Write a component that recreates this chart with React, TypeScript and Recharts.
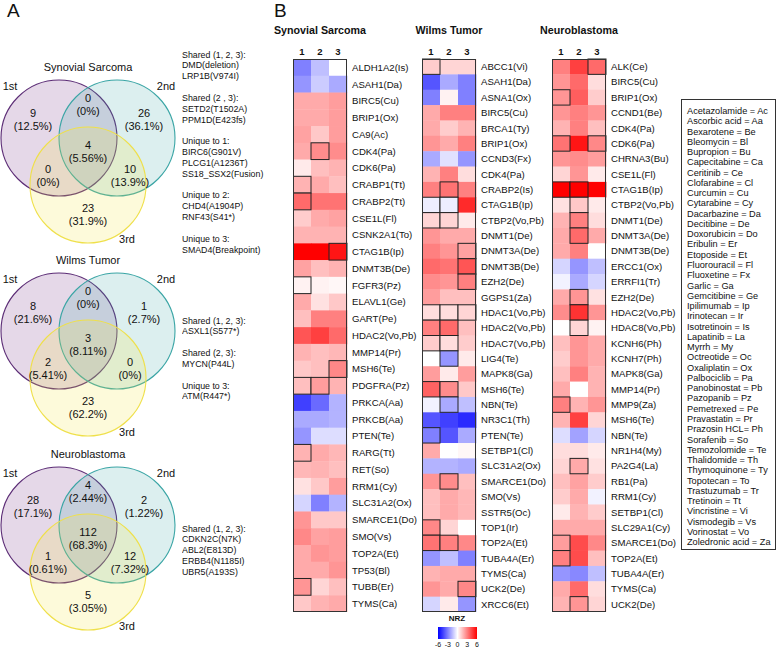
import { ScatterChart, Scatter, XAxis, YAxis, ReferenceArea } from 'recharts'

const SANS = '"Liberation Sans", Arial, Helvetica, sans-serif'
const NARROW = '"Liberation Sans Narrow", "Arial Narrow", "Liberation Sans", sans-serif'

// ---- Venn data: regions in order [only 1, 1&2, only 2, 1&2&3, 1&3, 2&3, only 3]
const ssCounts = [9, 0, 26, 4, 0, 10, 23]
const ssPcts = ['12.5%', '0%', '36.1%', '5.56%', '0%', '13.9%', '31.9%']
const wtCounts = [8, 0, 1, 3, 2, 0, 23]
const wtPcts = ['21.6%', '0%', '2.7%', '8.11%', '5.41%', '0%', '62.2%']
const nbCounts = [28, 4, 2, 112, 1, 12, 5]
const nbPcts = ['17.1%', '2.44%', '1.22%', '68.3%', '0.61%', '7.32%', '3.05%']

const ssNotes = [
  ['Shared (1, 2, 3):', 'DMD(deletion)', 'LRP1B(V974I)'],
  ['Shared (2 , 3):', 'SETD2(T1502A)', 'PPM1D(E423fs)'],
  ['Unique to 1:', 'BIRC6(G901V)', 'PLCG1(A1236T)', 'SS18_SSX2(Fusion)'],
  ['Unique to 2:', 'CHD4(A1904P)', 'RNF43(S41*)'],
  ['Unique to 3:', 'SMAD4(Breakpoint)'],
]
const wtNotes = [
  ['Shared (1, 2, 3):', 'ASXL1(S577*)'],
  ['Shared (2, 3):', 'MYCN(P44L)'],
  ['Unique to 3:', 'ATM(R447*)'],
]
const nbNotes = [['Shared (1, 2, 3):', 'CDKN2C(N7K)', 'ABL2(E813D)', 'ERBB4(N1185I)', 'UBR5(A193S)']]

// ---- Heatmap data (NRZ per timepoint 1, 2, 3)
const ssGenes = ['ALDH1A2(Is)', 'ASAH1(Da)', 'BIRC5(Cu)', 'BRIP1(Ox)', 'CA9(Ac)', 'CDK4(Pa)', 'CDK6(Pa)', 'CRABP1(Tt)', 'CRABP2(Tt)', 'CSE1L(Fl)', 'CSNK2A1(To)', 'CTAG1B(Ip)', 'DNMT3B(De)', 'FGFR3(Pz)', 'ELAVL1(Ge)', 'GART(Pe)', 'HDAC2(Vo,Pb)', 'MMP14(Pr)', 'MSH6(Te)', 'PDGFRA(Pz)', 'PRKCA(Aa)', 'PRKCB(Aa)', 'PTEN(Te)', 'RARG(Tt)', 'RET(So)', 'RRM1(Cy)', 'SLC31A2(Ox)', 'SMARCE1(Do)', 'SMO(Vs)', 'TOP2A(Et)', 'TP53(Bl)', 'TUBB(Er)', 'TYMS(Ca)']
const ssValues = [
  [-3, -1.5, 0], [-2.5, -1.2, -2], [2, 2, 2.3], [2, 2, 2.3], [2.2, 1.3, 2.3], [2, 2.7, 2.7], [0.5, 1.5, 1.8],
  [1.8, 2, 1.5], [3.5, 3.3, 3.3], [1.2, 2, 2.2], [1.8, 1.8, 1.8], [6, 6, 5.5], [2.2, 1.5, 1.8], [0.3, 0.3, 0.2],
  [2, 0.7, 1.3], [1.5, 3, 3], [4, 4.5, 3.5], [1.8, 1.5, 1.7], [1.3, 1.5, 2.8], [1.5, 2.3, 1.8], [-4.5, -3.5, -1.8],
  [-2, -2, -1.8], [-2.5, -0.8, -0.8], [1.8, 2, 1.7], [1.7, 1.8, 1.5], [0.7, 1.3, 2.3], [-1, -3, -1.8], [2.5, 1.3, 1.3],
  [2.8, 2.2, 2.3], [2, 2.5, 2.3], [2, 2, 2.5], [2.5, 1, 1.5], [1.3, 1.8, 2],
]
const ssBoxed: Record<string, number[]> = {
  'CDK4(Pa)': [2], 'CRABP1(Tt)': [1], 'CRABP2(Tt)': [1], 'CTAG1B(Ip)': [3], 'FGFR3(Pz)': [1],
  'MSH6(Te)': [3], 'PDGFRA(Pz)': [1, 2], 'RARG(Tt)': [1], 'TUBB(Er)': [1],
}

const wtGenes = ['ABCC1(Vi)', 'ASAH1(Da)', 'ASNA1(Ox)', 'BIRC5(Cu)', 'BRCA1(Ty)', 'BRIP1(Ox)', 'CCND3(Fx)', 'CDK4(Pa)', 'CRABP2(Is)', 'CTAG1B(Ip)', 'CTBP2(Vo,Pb)', 'DNMT1(De)', 'DNMT3A(De)', 'DNMT3B(De)', 'EZH2(De)', 'GGPS1(Za)', 'HDAC1(Vo,Pb)', 'HDAC2(Vo,Pb)', 'HDAC7(Vo,Pb)', 'LIG4(Te)', 'MAPK8(Ga)', 'MSH6(Te)', 'NBN(Te)', 'NR3C1(Th)', 'PTEN(Te)', 'SETBP1(Cl)', 'SLC31A2(Ox)', 'SMARCE1(Do)', 'SMO(Vs)', 'SSTR5(Oc)', 'TOP1(Ir)', 'TOP2A(Et)', 'TUBA4A(Er)', 'TYMS(Ca)', 'UCK2(De)', 'XRCC6(Et)']
const wtValues = [
  [1.2, 1, 1], [-4, -2, -3], [-3, 0.3, -3], [2, 3, 3], [2, 1.2, 1.8], [2.5, 2, 3], [-2, -0.7, -2.5],
  [1.8, 3, 0.8], [3, 3.3, 3], [-0.4, -0.4, 5], [1, 1, 0.5], [2.5, 2, 2], [3, 2.5, 2.2], [3.5, 3.3, 4],
  [2.7, 2.5, 3], [2.3, 1.5, 1.5], [0.8, 0.8, 1], [3, 3.5, 1.5], [1.2, 0.8, 1.2], [0, -2.5, 0.5], [2.3, 0.5, 2.3],
  [3.7, 2.7, 1.3], [-0.3, -2, -1.5], [-4, -4.5, -5], [-3, -4, -2], [2, 0, 0.2], [-1.8, -1.8, -2],
  [2.5, 2.7, 1.5], [1.5, 2, 1.7], [1.5, 2, 1.7], [2.8, 1, 0], [3.3, 3, 2.8], [-2.5, -1.5, -3], [1.8, 2, 2],
  [2.5, 2, 2.8], [-1, 0.5, -2.5],
]
const wtBoxed: Record<string, number[]> = {
  'ABCC1(Vi)': [1], 'CRABP2(Is)': [2], 'CTAG1B(Ip)': [1, 2], 'CTBP2(Vo,Pb)': [1, 2], 'DNMT3A(De)': [3],
  'DNMT3B(De)': [3], 'EZH2(De)': [3], 'HDAC1(Vo,Pb)': [1, 2, 3], 'HDAC2(Vo,Pb)': [1, 2], 'HDAC7(Vo,Pb)': [1, 2],
  'LIG4(Te)': [2], 'MSH6(Te)': [1, 2], 'NBN(Te)': [2], 'PTEN(Te)': [1], 'SMARCE1(Do)': [2], 'TOP1(Ir)': [1],
  'TOP2A(Et)': [1, 2], 'UCK2(De)': [3],
}

const nbGenes = ['ALK(Ce)', 'BIRC5(Cu)', 'BRIP1(Ox)', 'CCND1(Be)', 'CDK4(Pa)', 'CDK6(Pa)', 'CHRNA3(Bu)', 'CSE1L(Fl)', 'CTAG1B(Ip)', 'CTBP2(Vo,Pb)', 'DNMT1(De)', 'DNMT3A(De)', 'DNMT3B(De)', 'ERCC1(Ox)', 'ERRFI1(Tr)', 'EZH2(De)', 'HDAC2(Vo,Pb)', 'HDAC8(Vo,Pb)', 'KCNH6(Ph)', 'KCNH7(Ph)', 'MAPK8(Ga)', 'MMP14(Pr)', 'MMP9(Za)', 'MSH6(Te)', 'NBN(Te)', 'NR1H4(My)', 'PA2G4(La)', 'RB1(Pa)', 'RRM1(Cy)', 'SETBP1(Cl)', 'SLC29A1(Cy)', 'SMARCE1(Do)', 'TOP2A(Et)', 'TUBA4A(Er)', 'TYMS(Ca)', 'UCK2(De)']
const nbValues = [
  [3, 4.5, 3.5], [2.5, 3.5, 0.8], [2.5, 3.8, 1.2], [2.5, 3, 2.5], [1.8, 3, 1.5], [3.3, 5.5, 2.8], [2.5, 2.7, 2.3],
  [1, 2.5, 0.5], [6, 6, 6], [0.7, 1.3, 0.5], [1.8, 3, 0.8], [2, 3.5, 2], [2, 3, 0], [-1, -2.5, -1.5],
  [-0.3, -2, -1], [2, 2.5, 0.7], [2.7, 4.8, 2.5], [0, 1, 0.3], [1.5, 2.5, 2], [1.2, 2.5, 2], [1.5, 3, 1.8],
  [2, 0, 1.8], [3, 1.8, 2.5], [1.8, 4.5, 1], [-0.8, -2.2, -1], [0.8, 0.8, 0.5], [1, 2, 0.7], [1.5, 2.2, 1.2],
  [1.2, 2, -0.3], [0.5, 1.8, 1.2], [2, 2, 2], [2.3, 4.2, 2.8], [3, 4.2, 1.5], [-2.5, -2.8, -1.5], [2, 3.5, 0.8],
  [1.8, 2.5, 1],
]
const nbBoxed: Record<string, number[]> = {
  'ALK(Ce)': [3], 'BRIP1(Ox)': [1], 'CDK6(Pa)': [1, 3], 'CTAG1B(Ip)': [1, 2], 'CTBP2(Vo,Pb)': [2],
  'DNMT1(De)': [2], 'DNMT3A(De)': [2], 'EZH2(De)': [2], 'HDAC2(Vo,Pb)': [2], 'HDAC8(Vo,Pb)': [2],
  'MMP9(Za)': [1], 'PA2G4(La)': [2], 'SMARCE1(Do)': [1], 'TOP2A(Et)': [1], 'UCK2(De)': [2],
}

const nrzTicks = [-6, -3, 0, 3, 6]

const drugAbbreviations = [
  'Acetazolamide = Ac', 'Ascorbic acid = Aa', 'Bexarotene = Be', 'Bleomycin = Bl', 'Bupropion = Bu',
  'Capecitabine = Ca', 'Ceritinib = Ce', 'Clofarabine = Cl', 'Curcumin = Cu', 'Cytarabine = Cy',
  'Dacarbazine = Da', 'Decitibine = De', 'Doxorubicin = Do', 'Eribulin = Er', 'Etoposide = Et',
  'Fluorouracil = Fl', 'Fluoxetine = Fx', 'Garlic = Ga', 'Gemcitibine = Ge', 'Ipilimumab = Ip',
  'Irinotecan = Ir', 'Isotretinoin = Is', 'Lapatinib = La', 'Myrrh = My', 'Octreotide = Oc',
  'Oxaliplatin = Ox', 'Palbociclib = Pa', 'Panobinostat = Pb', 'Pazopanib = Pz', 'Pemetrexed = Pe',
  'Pravastatin = Pr', 'Prazosin HCL= Ph', 'Sorafenib = So', 'Temozolomide = Te', 'Thalidomide = Th',
  'Thymoquinone = Ty', 'Topotecan = To', 'Trastuzumab = Tr', 'Tretinoin = Tt', 'Vincristine = Vi',
  'Vismodegib = Vs', 'Vorinostat = Vo', 'Zoledronic acid = Za',
]

// ---- layout (page px, relative to the top of each venn block)
const VENN_R = 58
const vennCircles = [
  { x: 59, y: 138, fill: 'rgba(125, 60, 140, 0.2)', stroke: '#5c2d76' },
  { x: 117, y: 138, fill: 'rgba(60, 165, 165, 0.18)', stroke: '#3aa5a5' },
  { x: 88, y: 185, fill: 'rgba(245, 232, 70, 0.2)', stroke: '#efe04a' },
]
const regionSpots = [
  { x: 33, y: 113 }, { x: 88, y: 98 }, { x: 144, y: 113 }, { x: 88, y: 145 },
  { x: 48, y: 169 }, { x: 130, y: 169 }, { x: 88, y: 208 },
]
const setLabels = [
  { x: 10, y: 86, text: '1st' }, { x: 166, y: 86, text: '2nd' }, { x: 127, y: 239, text: '3rd' },
]

function nrzColor(v: number) {
  const t = Math.max(-1, Math.min(1, v / 6))
  if (t >= 0) {
    const k = Math.round(255 * (1 - t))
    return `rgb(255,${k},${k})`
  }
  const k = Math.round(255 * (1 + t))
  return `rgb(${k},${k},255)`
}

function Venn({ title, counts, pcts, top }: { title: string; counts: number[]; pcts: string[]; top: number }) {
  const regions = regionSpots.map((s, i) => ({ ...s, count: counts[i], pct: pcts[i] }))
  const titleSpot = [{ x: 88, y: 67, text: title }]
  return (
    <div style={{ position: 'absolute', left: 0, top: top + 50 }}>
      <ScatterChart width={180} height={205} margin={{ top: 0, right: 0, bottom: 0, left: 0 }}>
        <XAxis type="number" dataKey="x" domain={[0, 180]} hide />
        <YAxis type="number" dataKey="y" domain={[50, 255]} reversed hide />
        <Scatter data={vennCircles} isAnimationActive={false}
          shape={(p: any) => <circle cx={p.cx} cy={p.cy} r={VENN_R} fill={p.payload.fill} stroke={p.payload.stroke} strokeWidth={1.1} />} />
        <Scatter data={regions} isAnimationActive={false}
          shape={(p: any) => (
            <g fontFamily={SANS} fontSize={11} fill="#111" textAnchor="middle">
              <text x={p.cx} y={p.cy} dominantBaseline="central">{p.payload.count}</text>
              <text x={p.cx} y={p.cy + 13} dominantBaseline="central">({p.payload.pct})</text>
            </g>
          )} />
        <Scatter data={[...setLabels, ...titleSpot]} isAnimationActive={false}
          shape={(p: any) => (
            <text x={p.cx} y={p.cy} dominantBaseline="central" textAnchor="middle" fontFamily={SANS} fontSize={11} fill="#111">{p.payload.text}</text>
          )} />
      </ScatterChart>
    </div>
  )
}

function Notes({ groups, top }: { groups: string[][]; top: number }) {
  return (
    <div style={{ position: 'absolute', left: 182, top, fontFamily: NARROW, fontSize: 9.7, lineHeight: '10.85px', color: '#111', whiteSpace: 'pre', transform: 'scaleX(0.91)', transformOrigin: '0 0' }}>
      {groups.map((g, i) => (
        <div key={i} style={{ marginBottom: i < groups.length - 1 ? 10.85 : 0 }}>
          {g.map((line) => <div key={line}>{line}</div>)}
        </div>
      ))}
    </div>
  )
}

const HM_TOP = 59
const HM_H = 553
const HM_W = 54
const LABEL_W = 72
const HEAD_H = 15

function Heatmap({ title, genes, values, boxed, left }: { title: string; genes: string[]; values: number[][]; boxed: Record<string, number[]>; left: number }) {
  const n = genes.length
  const cw = HM_W / 3
  const ch = HM_H / n
  const plain: any[] = []
  const marked: any[] = []
  genes.forEach((g, r) => values[r].forEach((v, c) => {
    const d = { c: c + 1, r: r + 1, v }
    if ((boxed[g] || []).includes(c + 1)) marked.push(d)
    else plain.push(d)
  }))
  const cell = (withBox: boolean) => (p: any) => (
    <rect x={p.cx - cw / 2} y={p.cy - ch / 2} width={cw + (withBox ? 0 : 0.4)} height={ch + (withBox ? 0 : 0.4)}
      fill={nrzColor(p.payload.v)} stroke={withBox ? '#222' : 'none'} strokeWidth={1} />
  )
  return (
    <>
      <div style={{ position: 'absolute', left: left - 40, width: HM_W + 80, top: 24, textAlign: 'center', fontFamily: SANS, fontWeight: 700, fontSize: 10.7, color: '#111' }}>{title}</div>
      <div style={{ position: 'absolute', left, top: HM_TOP - HEAD_H }}>
        <ScatterChart width={HM_W + LABEL_W} height={HM_H + HEAD_H} margin={{ top: 0, right: 0, bottom: 0, left: 0 }} style={{ overflow: 'visible' }}>
          <XAxis type="number" dataKey="c" orientation="top" domain={[0.5, 3.5]} ticks={[1, 2, 3]} interval={0}
            height={HEAD_H} axisLine={false} tickLine={false} tickSize={0} tickMargin={4}
            tick={{ fontSize: 9.5, fontWeight: 700, fill: '#111', fontFamily: SANS }} />
          <YAxis type="number" dataKey="r" orientation="right" reversed domain={[0.5, n + 0.5]}
            ticks={genes.map((_, i) => i + 1)} interval={0} tickFormatter={(i: number) => genes[i - 1] ?? ''}
            width={LABEL_W} axisLine={false} tickLine={false} tickSize={0} tickMargin={5}
            tick={{ fontSize: 9.6, fill: '#111', fontFamily: NARROW, textAnchor: 'start' }} />
          <Scatter data={plain} isAnimationActive={false} shape={cell(false)} />
          <Scatter data={marked} isAnimationActive={false} shape={cell(true)} />
        </ScatterChart>
      </div>
      <div style={{ position: 'absolute', left, top: HM_TOP, width: HM_W, height: HM_H, border: '1px solid #333', boxSizing: 'border-box', pointerEvents: 'none' }} />
    </>
  )
}

function ColorBar() {
  const pts = nrzTicks.map((x) => ({ x, y: 0.5 }))
  return (
    <>
      <div style={{ position: 'absolute', left: 437, width: 40, top: 614, textAlign: 'center', fontFamily: SANS, fontWeight: 700, fontSize: 8, color: '#111' }}>NRZ</div>
      <div style={{ position: 'absolute', left: 431, top: 625 }}>
        <ScatterChart width={53} height={29} margin={{ top: 2, right: 7, bottom: 0, left: 7 }} style={{ overflow: 'visible' }}>
          <defs>
            <linearGradient id="nrzGrad" x1="0" y1="0" x2="1" y2="0">
              <stop offset="0%" stopColor="#0000ff" />
              <stop offset="50%" stopColor="#ffffff" />
              <stop offset="100%" stopColor="#ff0000" />
            </linearGradient>
          </defs>
          <XAxis type="number" dataKey="x" domain={[-6, 6]} ticks={nrzTicks} interval={0} height={15} axisLine={false} tickLine={false}
            tickSize={0} tickMargin={3} tick={{ fontSize: 7, fill: '#111', fontFamily: SANS }} />
          <YAxis type="number" dataKey="y" domain={[0, 1]} hide />
          <ReferenceArea x1={-6} x2={6} y1={0} y2={1} fill="url(#nrzGrad)" fillOpacity={1} stroke="none" ifOverflow="visible" />
          <Scatter data={pts} isAnimationActive={false} shape={() => <g />} />
        </ScatterChart>
      </div>
    </>
  )
}

export default function App() {
  return (
    <div style={{ position: 'absolute', left: 0, top: 0, width: 778, height: 654, background: '#fff', overflow: 'hidden', fontFamily: SANS }}>
      <div style={{ position: 'absolute', left: 7, top: 1, fontSize: 19, lineHeight: '20px', fontFamily: SANS, color: '#111' }}>A</div>
      <div style={{ position: 'absolute', left: 274, top: 1, fontSize: 19, lineHeight: '20px', fontFamily: SANS, color: '#111' }}>B</div>

      <Venn title="Synovial Sarcoma" counts={ssCounts} pcts={ssPcts} top={0} />
      <Venn title="Wilms Tumor" counts={wtCounts} pcts={wtPcts} top={193} />
      <Venn title="Neuroblastoma" counts={nbCounts} pcts={nbPcts} top={387} />
      <Notes groups={ssNotes} top={49.5} />
      <Notes groups={wtNotes} top={315.5} />
      <Notes groups={nbNotes} top={523.5} />

      <Heatmap title="Synovial Sarcoma" genes={ssGenes} values={ssValues} boxed={ssBoxed} left={293} />
      <Heatmap title="Wilms Tumor" genes={wtGenes} values={wtValues} boxed={wtBoxed} left={422} />
      <Heatmap title="Neuroblastoma" genes={nbGenes} values={nbValues} boxed={nbBoxed} left={552} />
      <ColorBar />

      <div style={{ position: 'absolute', left: 681, top: 99, width: 95, height: 451, border: '1px solid #333', boxSizing: 'border-box', padding: '6px 0 0 5px', fontFamily: NARROW, fontSize: 9.2, lineHeight: '10.26px', color: '#111', whiteSpace: 'nowrap' }}>
        {drugAbbreviations.map((d) => <div key={d}>{d}</div>)}
      </div>
    </div>
  )
}
